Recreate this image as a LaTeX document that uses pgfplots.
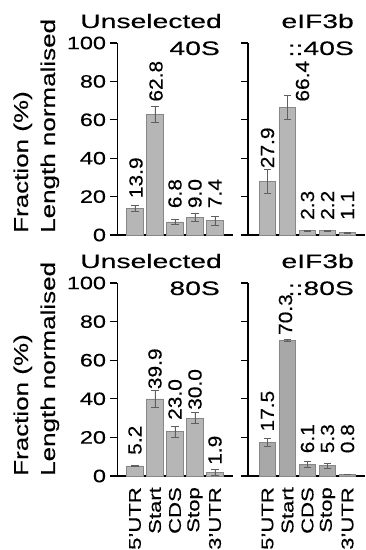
\documentclass[border=0pt]{standalone}
\usepackage{fontspec}
\setmainfont{Liberation Sans}[FakeStretch=1.3, FakeBold=0.35]
\newfontfamily\valfont{Liberation Sans}[FakeStretch=1.1, FakeBold=0.35]
\newfontfamily\titlefont{Liberation Sans}[FakeStretch=1.45, FakeBold=0.35]
\usepackage{pgfplots}
\usepackage{pgfplotstable}
\pgfplotsset{compat=1.18}
\pgfkeys{/pgf/number format/assume math mode=true}
\definecolor{barfill}{RGB}{182,182,182}
\definecolor{baredge}{RGB}{135,135,135}
\definecolor{barfillB}{RGB}{168,168,168}
\definecolor{errcol}{RGB}{95,95,95}

% x: category, y: value, err: error, lx/ly: position of the value label
\pgfplotstableread{
x y err lx ly
0 13.9 1.5 0.05 19.1
1 62.8 4.3 1.05 69.4
2 6.8 1.5 2 13.9
3 9.0 2.2 3 13.9
4 7.4 2.2 4 13.9
}\tl
\pgfplotstableread{
x y err lx ly
0 27.9 6.0 0 34.7
1 66.4 6.3 1.75 69.4
2 2.3 0.3 2 7.8
3 2.2 0.2 3 7.8
4 1.1 0.2 4 7.8
}\tr
\pgfplotstableread{
x y err lx ly
0 5.2 0.5 0 10.9
1 39.9 4.2 1 44.9
2 23.0 2.8 2 29.0
3 30.0 2.7 3 34.2
4 1.9 1.4 4 5.7
}\bl
\pgfplotstableread{
x y err lx ly
0 17.5 2.0 0 23.0
1 70.3 0.4 0.9 73.0
2 6.1 1.6 2 11.7
3 5.3 1.3 3 11.7
4 0.8 0.2 4 11.7
}\br

\pgfplotsset{
  panel/.style={
    scale only axis, width=116pt, height=192pt,
    axis x line*=bottom, axis y line*=left,
    x axis line style={-, line width=1.2pt},
    y axis line style={-, line width=1.2pt},
    ymin=0, ymax=100, ytick={0,20,...,100},
    tick align=outside, major tick length=7pt,
    y tick style={line width=1.2pt, black},
    clip=false,
    tick label style={font=\fontsize{18}{20}\selectfont},
    yticklabel style={xshift=-1pt},
  },
  cats/.style={xtick={0,1,2,3,4}, xticklabels={5'UTR,Start,CDS,Stop,3'UTR}, x tick style={draw=none},
    xticklabel style={rotate=90, anchor=east, inner sep=4pt, font=\fontsize{17}{19}\selectfont}},
  bars/.style={ybar, bar width=16.7pt, fill=#1, draw=baredge, line width=0.8pt,
    error bars/.cd, y dir=both, y explicit,
    error bar style={line width=0.9pt, errcol},
    error mark=|,
    error mark options={line width=0.9pt, errcol, mark size=3.8pt}},
  vals/.style={only marks, mark size=0pt, point meta=explicit symbolic,
    nodes near coords,
    nodes near coords style={rotate=90, anchor=west, inner sep=0pt, font=\valfont\fontsize{19}{21}\selectfont, black}},
}

\begin{document}
\begin{tikzpicture}
\useasboundingbox (0pt,0pt) rectangle (366pt,550pt);

% top left
\begin{axis}[panel, at={(117.5pt,315pt)}, anchor=south west, xmin=-0.875, xmax=4.925, xtick=\empty]
\addplot[bars=barfill] table[x=x,y=y,y error=err]{\tl};
\addplot[vals] table[x=lx, y=ly, meta=y]{\tl};
\end{axis}

% top right
\begin{axis}[panel, at={(248pt,315pt)}, anchor=south west, width=117pt, xmin=-0.975, xmax=4.875, xtick=\empty, yticklabels={}]
\addplot[bars=barfill] table[x=x,y=y,y error=err]{\tr};
\addplot[vals] table[x=lx, y=ly, meta=y]{\tr};
\end{axis}

% bottom left
\begin{axis}[panel, cats, at={(117.5pt,74pt)}, anchor=south west, height=193pt, xmin=-0.875, xmax=4.925]
\addplot[bars=barfill] table[x=x,y=y,y error=err]{\bl};
\addplot[vals] table[x=lx, y=ly, meta=y]{\bl};
\end{axis}

% bottom right
\begin{axis}[panel, cats, at={(248pt,74pt)}, anchor=south west, width=117pt, height=193pt, xmin=-0.975, xmax=4.875, yticklabels={}]
\addplot[bars=barfillB] table[x=x,y=y,y error=err]{\br};
\addplot[vals] table[x=lx, y=ly, meta=y]{\br};
\end{axis}

% titles
\begin{scope}[every node/.style={font=\titlefont\fontsize{19.5}{21}\selectfont, inner sep=0pt}]
\node[anchor=base east] at (222pt,522pt) {Unselected};
\node[anchor=base east] at (220pt,495pt) {40S};
\node[anchor=base east] at (354pt,522pt) {eIF3b};
\node[anchor=base east] at (354pt,495pt) {::40S};
\node[anchor=base east] at (222pt,282pt) {Unselected};
\node[anchor=base east] at (220pt,255pt) {80S};
\node[anchor=base east] at (354pt,282pt) {eIF3b};
\node[anchor=base east] at (354pt,255pt) {::80S};
\end{scope}

% y labels
\begin{scope}[every node/.style={font=\fontsize{20}{22}\selectfont, inner sep=0pt, rotate=90, anchor=base west}]
\node at (28pt,317pt) {Fraction (\%)};
\node at (55pt,317pt) {Length normalised};
\node at (28pt,74pt) {Fraction (\%)};
\node at (55pt,74pt) {Length normalised};
\end{scope}
\end{tikzpicture}
\end{document}
